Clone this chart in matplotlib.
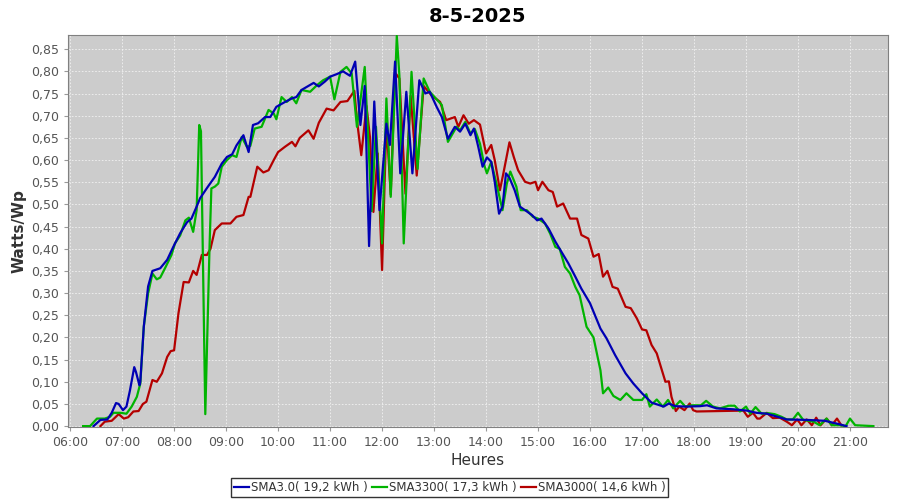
import matplotlib
matplotlib.use("Agg")
import matplotlib.pyplot as plt
from matplotlib.ticker import FuncFormatter, MultipleLocator

title = "8-5-2025"
labels = ["SMA3.0( 19,2 kWh )", "SMA3300( 17,3 kWh )", "SMA3000( 14,6 kWh )"]
colors = ["#0000b4", "#00b400", "#b40000"]

blue_t = ["06:27", "06:35", "06:43", "06:48", "06:53", "06:56", "07:01", "07:05", "07:09", "07:14",
          "07:16", "07:20", "07:21", "07:25", "07:30", "07:35", "07:44", "07:52", "07:59", "08:07",
          "08:15", "08:20", "08:26", "08:30", "08:39", "08:47", "08:55", "09:01", "09:07", "09:12",
          "09:20", "09:26", "09:31", "09:37", "09:45", "09:51", "09:58", "10:08", "10:16", "10:21",
          "10:27", "10:41", "10:47", "10:54", "11:00", "11:08", "11:15", "11:23", "11:29", "11:35",
          "11:40", "11:45", "11:51", "11:57", "12:05", "12:09", "12:15", "12:21", "12:28", "12:35",
          "12:43", "12:50", "12:55", "13:03", "13:09", "13:16", "13:24", "13:30", "13:36", "13:42",
          "13:46", "13:51", "13:56", "14:01", "14:06", "14:10", "14:15", "14:19", "14:23", "14:27",
          "14:33", "14:39", "14:45", "14:53", "14:59", "15:04", "15:12", "15:20", "15:27", "15:35",
          "15:43", "15:50", "16:00", "16:12", "16:19", "16:29", "16:41", "16:50", "17:00", "17:11",
          "17:25", "17:31", "17:38", "17:51", "18:07", "18:15", "18:26", "18:45", "19:01", "19:12",
          "19:24", "19:47", "20:10", "20:31", "20:44", "20:56"]
blue_v = [0.000, 0.014, 0.015, 0.030, 0.052, 0.050, 0.036, 0.044, 0.080, 0.133,
          0.122, 0.092, 0.100, 0.224, 0.315, 0.350, 0.356, 0.375, 0.404, 0.435,
          0.460, 0.468, 0.495, 0.514, 0.540, 0.562, 0.592, 0.607, 0.613, 0.633,
          0.656, 0.618, 0.679, 0.683, 0.697, 0.697, 0.720, 0.731, 0.739, 0.742,
          0.758, 0.774, 0.766, 0.777, 0.788, 0.794, 0.800, 0.790, 0.822, 0.679,
          0.767, 0.406, 0.732, 0.487, 0.682, 0.634, 0.822, 0.570, 0.754, 0.570,
          0.780, 0.750, 0.754, 0.720, 0.697, 0.648, 0.675, 0.664, 0.682, 0.656,
          0.671, 0.630, 0.585, 0.606, 0.596, 0.551, 0.479, 0.495, 0.570, 0.560,
          0.532, 0.495, 0.487, 0.476, 0.464, 0.468, 0.446, 0.416, 0.393, 0.367,
          0.337, 0.310, 0.277, 0.220, 0.198, 0.160, 0.119, 0.096, 0.074, 0.053,
          0.044, 0.051, 0.045, 0.044, 0.045, 0.047, 0.040, 0.038, 0.035, 0.030,
          0.028, 0.015, 0.014, 0.012, 0.006, 0.000]

green_t = ["06:15", "06:23", "06:31", "06:40", "06:46", "06:50", "06:58", "07:05", "07:11", "07:17",
           "07:21", "07:25", "07:30", "07:35", "07:40", "07:44", "07:50", "07:57", "08:01", "08:07",
           "08:13", "08:17", "08:22", "08:26", "08:29", "08:31", "08:36", "08:41", "08:43", "08:47",
           "08:51", "08:55", "09:01", "09:07", "09:12", "09:18", "09:24", "09:28", "09:33", "09:41",
           "09:49", "09:55", "09:58", "10:04", "10:10", "10:16", "10:21", "10:27", "10:37", "10:45",
           "10:52", "11:00", "11:05", "11:12", "11:19", "11:25", "11:31", "11:40", "11:48", "11:53",
           "12:00", "12:05", "12:10", "12:17", "12:20", "12:25", "12:34", "12:41", "12:48", "12:55",
           "13:09", "13:16", "13:26", "13:30", "13:36", "13:42", "13:47", "13:53", "13:58", "14:01",
           "14:06", "14:12", "14:19", "14:24", "14:28", "14:35", "14:40", "14:47", "14:54", "15:00",
           "15:08", "15:14", "15:20", "15:25", "15:31", "15:37", "15:43", "15:48", "15:56", "16:04",
           "16:12", "16:15", "16:21", "16:27", "16:35", "16:42", "16:50", "17:00", "17:05", "17:09",
           "17:17", "17:24", "17:30", "17:36", "17:44", "17:50", "17:58", "18:08", "18:14", "18:22",
           "18:30", "18:40", "18:47", "18:53", "19:00", "19:05", "19:11", "19:18", "19:26", "19:33",
           "19:41", "19:47", "19:54", "20:00", "20:06", "20:18", "20:25", "20:33", "20:39", "20:48",
           "20:55", "21:00", "21:06", "21:27"]
green_v = [0.000, 0.000, 0.017, 0.017, 0.021, 0.030, 0.030, 0.028, 0.044, 0.066,
           0.096, 0.224, 0.299, 0.344, 0.331, 0.335, 0.358, 0.386, 0.412, 0.430,
           0.464, 0.470, 0.438, 0.487, 0.679, 0.665, 0.027, 0.412, 0.536, 0.540,
           0.547, 0.585, 0.600, 0.611, 0.607, 0.652, 0.630, 0.632, 0.671, 0.675,
           0.713, 0.705, 0.692, 0.742, 0.731, 0.742, 0.728, 0.758, 0.754, 0.769,
           0.780, 0.788, 0.737, 0.799, 0.810, 0.795, 0.675, 0.810, 0.485, 0.675,
           0.412, 0.739, 0.517, 0.880, 0.790, 0.412, 0.799, 0.580, 0.784, 0.754,
           0.724, 0.641, 0.675, 0.667, 0.686, 0.660, 0.670, 0.637, 0.588, 0.570,
           0.596, 0.547, 0.487, 0.547, 0.574, 0.540, 0.487, 0.487, 0.472, 0.468,
           0.457, 0.434, 0.404, 0.400, 0.359, 0.344, 0.314, 0.295, 0.224, 0.200,
           0.126, 0.074, 0.087, 0.068, 0.059, 0.074, 0.059, 0.059, 0.072, 0.044,
           0.060, 0.044, 0.059, 0.040, 0.057, 0.044, 0.047, 0.047, 0.057, 0.044,
           0.040, 0.046, 0.046, 0.033, 0.044, 0.028, 0.043, 0.028, 0.029, 0.027,
           0.021, 0.015, 0.015, 0.030, 0.014, 0.010, 0.002, 0.017, 0.002, 0.002,
           0.000, 0.017, 0.002, 0.000]

red_t = ["06:35", "06:40", "06:48", "06:56", "07:02", "07:07", "07:13", "07:19", "07:24", "07:28",
         "07:35", "07:40", "07:46", "07:52", "07:56", "08:00", "08:05", "08:11", "08:17", "08:22",
         "08:26", "08:32", "08:38", "08:42", "08:47", "08:55", "09:05", "09:12", "09:20", "09:26",
         "09:28", "09:36", "09:43", "09:49", "09:55", "10:00", "10:08", "10:16", "10:20", "10:25",
         "10:35", "10:41", "10:47", "10:56", "11:04", "11:12", "11:20", "11:28", "11:31", "11:36",
         "11:42", "11:46", "11:50", "11:55", "12:00", "12:05", "12:10", "12:15", "12:20", "12:27",
         "12:33", "12:40", "12:48", "12:57", "13:07", "13:14", "13:24", "13:28", "13:34", "13:40",
         "13:46", "13:53", "14:00", "14:06", "14:10", "14:16", "14:20", "14:27", "14:32", "14:37",
         "14:45", "14:51", "14:57", "15:00", "15:05", "15:12", "15:17", "15:22", "15:29", "15:37",
         "15:45", "15:50", "15:58", "16:04", "16:10", "16:15", "16:20", "16:26", "16:32", "16:41",
         "16:47", "16:54", "17:00", "17:05", "17:11", "17:17", "17:23", "17:27", "17:31", "17:34",
         "17:39", "17:43", "17:49", "17:55", "17:59", "18:03", "18:57", "19:02", "19:08", "19:13",
         "19:16", "19:24", "19:31", "19:39", "19:47", "19:53", "19:59", "20:04", "20:10", "20:16",
         "20:21", "20:26", "20:33", "20:39", "20:45", "20:50"]
red_v = [0.000, 0.010, 0.012, 0.027, 0.017, 0.020, 0.033, 0.034, 0.050, 0.055,
         0.104, 0.100, 0.119, 0.156, 0.169, 0.171, 0.254, 0.325, 0.324, 0.350,
         0.341, 0.386, 0.386, 0.400, 0.442, 0.457, 0.457, 0.472, 0.476, 0.517,
         0.517, 0.585, 0.572, 0.577, 0.600, 0.618, 0.630, 0.641, 0.631, 0.650,
         0.667, 0.648, 0.684, 0.716, 0.712, 0.731, 0.733, 0.756, 0.690, 0.611,
         0.722, 0.652, 0.483, 0.615, 0.352, 0.686, 0.522, 0.797, 0.784, 0.524,
         0.745, 0.565, 0.767, 0.746, 0.731, 0.690, 0.697, 0.675, 0.701, 0.682,
         0.690, 0.680, 0.615, 0.634, 0.600, 0.532, 0.570, 0.640, 0.607, 0.577,
         0.551, 0.547, 0.551, 0.532, 0.551, 0.532, 0.528, 0.495, 0.502, 0.468,
         0.468, 0.431, 0.423, 0.382, 0.388, 0.337, 0.350, 0.314, 0.310, 0.269,
         0.266, 0.243, 0.218, 0.216, 0.183, 0.164, 0.126, 0.100, 0.101, 0.066,
         0.034, 0.044, 0.036, 0.051, 0.036, 0.033, 0.035, 0.021, 0.030, 0.017,
         0.017, 0.030, 0.018, 0.019, 0.010, 0.002, 0.015, 0.002, 0.015, 0.002,
         0.019, 0.002, 0.017, 0.002, 0.017, 0.002]


def to_hours(times):
    out = []
    for t in times:
        h, m = t.split(":")
        out.append(int(h) + int(m) / 60)
    return out


fig = plt.figure(figsize=(9, 5), dpi=100)
ax = fig.add_axes([0.0756, 0.146, 0.911, 0.784])
ax.set_facecolor("#cccccc")

series = [(blue_t, blue_v), (green_t, green_v), (red_t, red_v)]
handles = []
# draw red first so blue ends up on top
for i in [2, 1, 0]:
    t, v = series[i]
    ln, = ax.plot(to_hours(t), v, color=colors[i], lw=1.6, label=labels[i], zorder=3 + (2 - i))
    handles.append(ln)
handles = handles[::-1]

ax.set_xlim(5.96, 21.73)
ax.set_ylim(-0.002, 0.882)
ax.xaxis.set_major_locator(MultipleLocator(1))
ax.xaxis.set_major_formatter(FuncFormatter(lambda x, p: f"{int(round(x)):02d}:00"))
ax.yaxis.set_major_locator(MultipleLocator(0.05))
ax.yaxis.set_major_formatter(FuncFormatter(lambda y, p: f"{y:.2f}".replace(".", ",")))

ax.grid(True, color="#f2f2f2", linestyle=(0, (2, 2)), linewidth=0.6)
ax.set_axisbelow(True)
for side in ["top", "right", "left", "bottom"]:
    ax.spines[side].set_color("#808080")
ax.tick_params(colors="#555555", labelsize=9, length=3, direction="out")
ax.tick_params(axis="both", color="#999999")

ax.set_title(title, fontsize=14, fontweight="bold", pad=9)
ax.set_xlabel("Heures", fontsize=11, color="#333333", labelpad=3)
ax.set_ylabel("Watts/Wp", fontsize=11, color="#333333", fontweight="bold", labelpad=3)

leg = fig.legend(handles, labels, loc="center", bbox_to_anchor=(0.4995, 0.025), ncol=3,
                 frameon=True, fancybox=False, fontsize=8.5, handlelength=1.3, handletextpad=0.15,
                 columnspacing=0.35, borderpad=0.25, borderaxespad=0)
leg.get_frame().set_edgecolor("black")
leg.get_frame().set_linewidth(1.0)
for txt in leg.get_texts():
    txt.set_color("#333333")

fig.savefig("out.png", dpi=100)
